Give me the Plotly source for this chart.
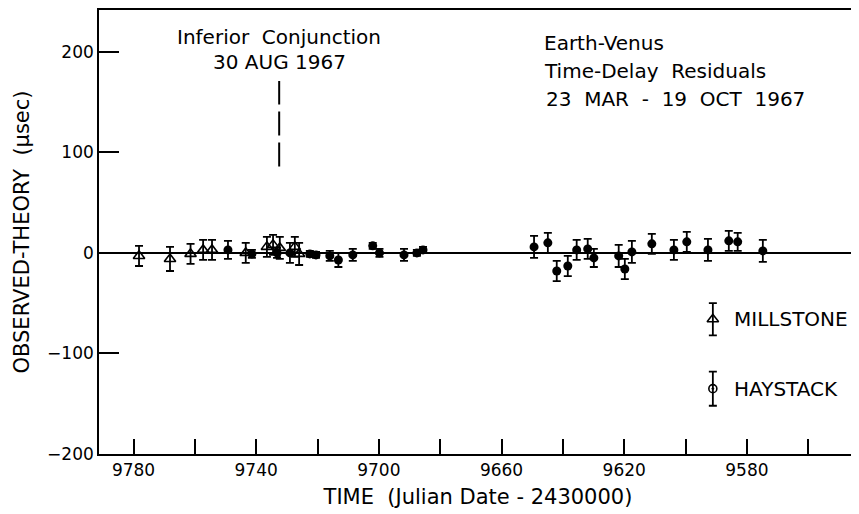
import plotly.graph_objects as go

# ---- data (Julian Date - 2430000, residual in microseconds) ----
mill_x = [9778.2, 9768.1, 9761.4, 9757.3, 9754.4, 9743.4, 9736.5, 9734.5, 9732.3, 9727.4, 9726.0]
mill_y = [-3, -6, -1, 3, 3, 0, 6, 8, 5, 6, -1]
mill_err = [10, 12, 10, 10, 10, 10, 10, 10, 11, 10, 11]

hay_x = [9749.2, 9741.4, 9733.2, 9729.0, 9722.5, 9720.5, 9716.0, 9713.2, 9708.5, 9702.0,
         9699.8, 9691.8, 9687.6, 9685.6,
         9649.4, 9644.9, 9642.0, 9638.4, 9635.5, 9631.9, 9629.9, 9621.8, 9619.8, 9617.5,
         9611.0, 9603.8, 9599.6, 9592.7, 9585.9, 9583.0, 9574.8]
hay_y = [3, -1, 0, 0, -1, -2, -3, -7, -2, 7,
         0, -2, 0, 3,
         6, 10, -18, -13, 3, 4, -5, -3, -16, 1,
         9, 3, 11, 3, 12, 11, 2]
hay_err = [9, 4, 5, 10, 3, 3, 5, 7, 6, 3,
           4, 6, 3, 3,
           11, 10, 10, 10, 10, 10, 9, 11, 10, 11,
           10, 10, 10, 11, 10, 9, 11]

x_tickvals = [9780, 9760, 9740, 9720, 9700, 9680, 9660, 9640, 9620, 9600, 9580, 9560]
x_ticktext = ["9780", "", "9740", "", "9700", "", "9660", "", "9620", "", "9580", ""]
y_tickvals = [200, 100, 0, -100, -200]

CONJUNCTION = 9732.5
LEG_X = 9591.1
LEG_TEXT_X = 9585.0
LEG_MILL_Y, LEG_MILL_ERR = -66, 16
LEG_HAY_Y, LEG_HAY_ERR = -135, 17

FONT = "DejaVu Sans"

fig = go.Figure()

fig.add_trace(go.Scatter(
    x=mill_x, y=mill_y, mode="markers",
    marker=dict(symbol="triangle-up-open", size=10, color="black", line=dict(width=1.6)),
    error_y=dict(type="data", array=mill_err, color="black", thickness=1.8, width=4),
    showlegend=False))

fig.add_trace(go.Scatter(
    x=hay_x, y=hay_y, mode="markers",
    marker=dict(symbol="circle", size=9, color="black"),
    error_y=dict(type="data", array=hay_err, color="black", thickness=1.8, width=4),
    showlegend=False))

# legend symbols
fig.add_trace(go.Scatter(
    x=[LEG_X], y=[LEG_MILL_Y], mode="markers",
    marker=dict(symbol="triangle-up-open", size=10, color="black", line=dict(width=1.6)),
    error_y=dict(type="data", array=[LEG_MILL_ERR], color="black", thickness=1.8, width=4),
    showlegend=False))
fig.add_trace(go.Scatter(
    x=[LEG_X], y=[LEG_HAY_Y], mode="markers",
    marker=dict(symbol="circle-open-dot", size=8, color="black", line=dict(width=1.6)),
    error_y=dict(type="data", array=[LEG_HAY_ERR], color="black", thickness=1.8, width=4),
    showlegend=False))

# conjunction marker (dashed)
fig.add_shape(type="line", x0=CONJUNCTION, x1=CONJUNCTION, y0=86, y1=171,
              line=dict(color="black", width=2, dash="24px,7px"))

ann_font = dict(family=FONT, size=20, color="black")
leg_font = dict(family=FONT, size=20, color="black")
fig.add_annotation(x=CONJUNCTION, y=215, text="Inferior  Conjunction", showarrow=False,
                   font=ann_font, xanchor="center", yanchor="middle")
fig.add_annotation(x=CONJUNCTION, y=190, text="30 AUG 1967", showarrow=False,
                   font=ann_font, xanchor="center", yanchor="middle")
fig.add_annotation(x=9646.8, y=209, text="Earth-Venus", showarrow=False,
                   font=ann_font, xanchor="left", yanchor="middle")
fig.add_annotation(x=9646.8, y=181, text="Time-Delay  Residuals", showarrow=False,
                   font=ann_font, xanchor="left", yanchor="middle")
fig.add_annotation(x=9646.3, y=153.5, text="23  MAR  -  19  OCT  1967", showarrow=False,
                   font=ann_font, xanchor="left", yanchor="middle")
fig.add_annotation(x=LEG_TEXT_X, y=LEG_MILL_Y, text="MILLSTONE", showarrow=False,
                   font=leg_font, xanchor="left", yanchor="middle")
fig.add_annotation(x=LEG_TEXT_X, y=LEG_HAY_Y, text="HAYSTACK", showarrow=False,
                   font=leg_font, xanchor="left", yanchor="middle")

fig.update_layout(
    width=851, height=506,
    margin=dict(l=91, r=2, t=0, b=60),
    paper_bgcolor="white", plot_bgcolor="white",
    font=dict(family=FONT, color="black"),
    xaxis=dict(
        range=[9791.25, 9544.1], tickmode="array", tickvals=x_tickvals, ticktext=x_ticktext,
        ticks="inside", ticklen=15, tickwidth=1.5, tickcolor="black",
        showline=True, linecolor="black", linewidth=1.6, mirror=True,
        showgrid=False, zeroline=False, tickfont=dict(size=17),
        title=dict(text="TIME  (Julian Date - 2430000)", font=dict(size=21), standoff=10),
    ),
    yaxis=dict(
        range=[-200, 241.6], tickmode="array", tickvals=y_tickvals,
        ticks="inside", ticklen=20, tickwidth=1.5, tickcolor="black",
        showline=True, linecolor="black", linewidth=1.6,
        showgrid=False, zeroline=True, zerolinecolor="black", zerolinewidth=1.8,
        tickfont=dict(size=17),
        title=dict(text="OBSERVED-THEORY  (μsec)", font=dict(size=21), standoff=12),
    ),
)

fig.write_html("out.html")
